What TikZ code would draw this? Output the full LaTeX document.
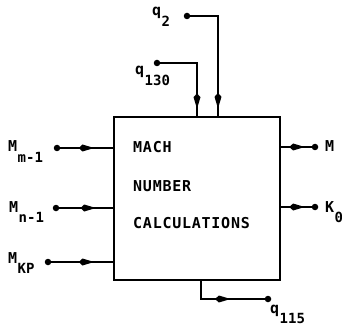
\documentclass[tikz,border=0pt]{standalone}
\usepackage{fontspec}
\setmainfont{DejaVu Sans Mono}[LetterSpace=5]
\newfontfamily\labfont{DejaVu Sans Mono}
\usetikzlibrary{decorations.markings,calc}
\newcommand\lab[2]{#1\kern0.5pt\raisebox{-10.5pt}{\fontsize{14}{15}\selectfont #2}}
\tikzset{
  dotnode/.style={circle,fill=black,inner sep=0pt,minimum size=6.5pt},
  conn/.style={line width=1.4pt},
  midarrow/.style={conn,decoration={markings,mark=at position #1 with {\fill (-12pt,-0.7pt) -- (-9pt,-3.5pt) -- (0pt,-0.8pt) -- (0pt,0.8pt) -- (-9pt,3.5pt) -- (-12pt,0.7pt) -- cycle;}},postaction={decorate}},
  boxtext/.style={anchor=base west,inner sep=0pt,font=\bfseries\fontsize{15}{17}\selectfont},
  labtext/.style={anchor=base west,inner sep=0pt,font=\labfont\bfseries\fontsize{15}{17}\selectfont},
}
\begin{document}
\begin{tikzpicture}[x=1pt,y=-1pt]
\useasboundingbox (0,0) rectangle (342,331);
\node[draw,line width=2pt,minimum width=166pt,minimum height=163pt,anchor=north west,inner sep=0pt] (box) at (113,116) {};
\node[boxtext] (t1) at (133,153) {MACH};
\node[boxtext] (t2) at (133,191) {NUMBER};
\node[boxtext] (t3) at (133,228) {CALCULATIONS};
% input dots
\node[dotnode] (q2d) at (187,16) {};
\node[dotnode] (q130d) at (157,63) {};
\node[dotnode] (mm1d) at (57,148) {};
\node[dotnode] (mn1d) at (56,208) {};
\node[dotnode] (mkpd) at (48,262) {};
\node[dotnode] (md) at (315,147) {};
\node[dotnode] (k0d) at (315,207) {};
\node[dotnode] (q115d) at (268,299) {};
% labels
\node[labtext] (lq2) at (152,16) {\lab{q}{2}};
\node[labtext] (lq130) at (135,75) {\lab{q}{130}};
\node[labtext] (lmm1) at (8,152) {\lab{M}{m-1}};
\node[labtext] (lmn1) at (9,212) {\lab{M}{n-1}};
\node[labtext] (lmkp) at (8,263) {\lab{M}{KP}};
\node[labtext] (lm) at (325,152) {M};
\node[labtext] (lk0) at (325,212) {\lab{K}{0}};
\node[labtext] (lq115) at (270,313) {\lab{q}{115}};
% connectors
\draw[midarrow=0.92] (q2d) -| ([xshift=105pt]box.north west);
\draw[midarrow=0.89] (q130d) -| ([xshift=84pt]box.north west);
\draw[midarrow=0.59] (mm1d) -- (mm1d -| box.west);
\draw[midarrow=0.63] (mn1d) -- (mn1d -| box.west);
\draw[midarrow=0.65] (mkpd) -- (mkpd -| box.west);
\draw[midarrow=0.69] (md -| box.east) -- (md);
\draw[midarrow=0.69] (k0d -| box.east) -- (k0d);
\draw[midarrow=0.55] ([xshift=88pt]box.south west) |- (q115d);
\end{tikzpicture}
\end{document}
